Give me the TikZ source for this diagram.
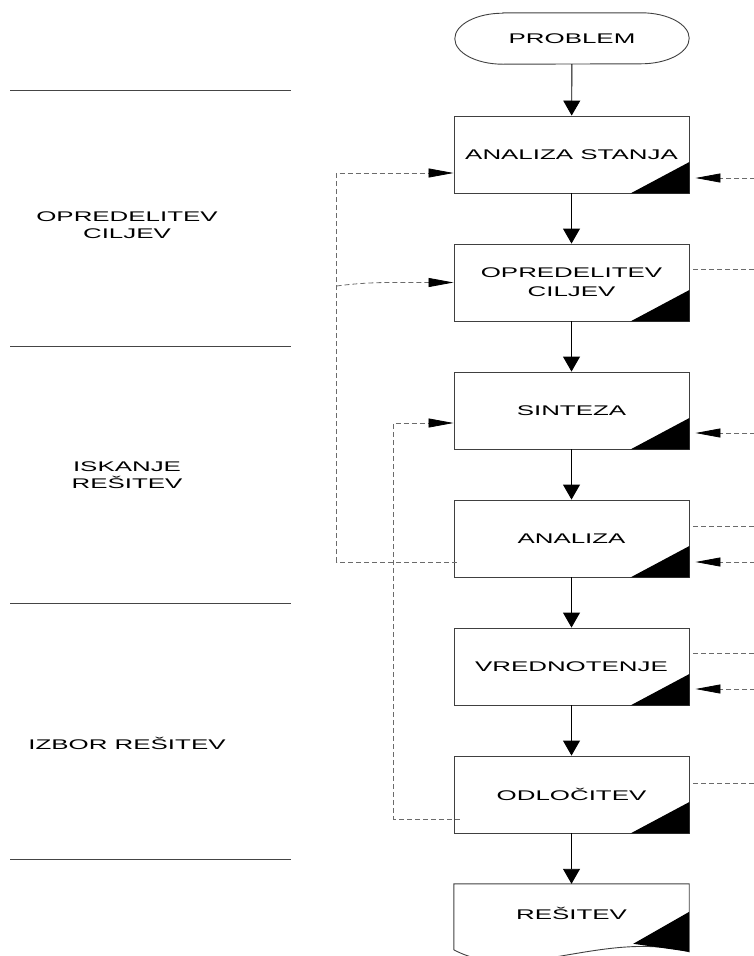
\documentclass[tikz,border=0pt]{standalone}
\usepackage{fontspec}
\setmainfont{Liberation Sans}[FakeStretch=1.85]
\usetikzlibrary{arrows.meta,calc}
\definecolor{framegray}{gray}{0.25}
\definecolor{dashgray}{gray}{0.42}
\definecolor{rulegray}{gray}{0.27}
\tikzset{
  boxfont/.style={font=\fontsize{14}{19}\selectfont},
  stepbox/.style={rectangle, draw=framegray, line width=0.9pt, minimum width=235pt,
    minimum height=77pt, inner sep=0pt, align=center, boxfont},
  plainbox/.style={rectangle, draw=none, inner sep=0pt, align=center, boxfont},
  outline/.style={draw=framegray, line width=0.9pt},
  flow/.style={draw=black, line width=0.9pt, -{Triangle[length=15pt,width=17pt]}},
  feedline/.style={draw=dashgray, line width=0.8pt, dash pattern=on 5pt off 3pt},
  feedarrow/.style={feedline, -{Triangle[length=25pt,width=9pt,color=black]}},
  corner/.style={fill=black},
  phase/.style={align=center, font=\fontsize{14}{17}\selectfont},
  rule/.style={draw=rulegray, line width=1pt}
}
\begin{document}
\begin{tikzpicture}[x=1pt,y=-1pt]
\useasboundingbox (0,0) rectangle (754,956);
\clip (0,0) rectangle (754,956);

% phase separators and phase names
\foreach \yy in {90,346,603,859} \draw[rule] (10,\yy) -- (291,\yy);
\node[phase] (ph1) at (127,225.5) {OPREDELITEV\\CILJEV};
\node[phase] (ph2) at (127,475.5) {ISKANJE\\REŠITEV};
\node[phase] (ph3) at (127,743) {IZBOR REŠITEV};

% start terminal
\node[plainbox, minimum width=234pt, minimum height=51pt] (p) at (572,38.5) {PROBLEM};
\draw[outline] ($(p.north west)+(48,0)$) -- ($(p.north east)+(-48,0)$)
  arc[start angle=-90,end angle=90,x radius=48,y radius=25.5]
  -- ($(p.south west)+(48,0)$)
  arc[start angle=90,end angle=270,x radius=48,y radius=25.5] -- cycle;

% process steps
\node[stepbox] (b1) at (571.5,154.5) {ANALIZA STANJA};
\node[stepbox] (b2) at (571.5,282.5) {OPREDELITEV\\CILJEV};
\node[stepbox] (b3) at (571.5,410.5) {SINTEZA};
\node[stepbox] (b4) at (571.5,538.5) {ANALIZA};
\node[stepbox] (b5) at (571.5,666.5) {VREDNOTENJE};
\node[stepbox] (b6) at (571.5,794.5) {ODLOČITEV};
\foreach \b in {b1,b2,b3,b4,b5,b6}
  \fill[corner] ($(\b.south east)+(-59,0)$) -- (\b.south east) -- ++(0,-31.5) -- cycle;

% result document
\node[plainbox, minimum width=235pt, minimum height=58pt] (b7) at (571.5,913) {REŠITEV};
\draw[outline] ($(b7.north west)+(0,66)$) -- (b7.north west) -- (b7.north east)
  -- ($(b7.north east)+(0,68)$)
  .. controls ($(b7.north east)+(-89,46)$) and ($(b7.north west)+(66,101)$) .. ($(b7.north west)+(0,66)$);
\fill[corner] ($(b7.north east)+(-56,60)$) -- ($(b7.north east)+(0,28)$) -- ($(b7.north east)+(0,68)$) -- cycle;

% main flow
\draw[flow] (p) -- (b1);
\draw[flow] (b1) -- (b2);
\draw[flow] (b2) -- (b3);
\draw[flow] (b3) -- (b4);
\draw[flow] (b4) -- (b5);
\draw[flow] (b5) -- (b6);
\draw[flow] (b6) -- (b7);

% feedback on the right edge
\foreach \b/\dy in {b1/23.5, b3/22.5, b4/23.5, b5/22.5}
  \draw[feedarrow] ($(\b.east)+(66,\dy)$) -- ($(\b.east)+(6,\dy)$);
\foreach \b/\dy in {b2/-13.5, b4/-12.5, b5/-13.5, b6/-11.5}
  \draw[feedline] ($(\b.east)+(4,\dy)$) -- ($(\b.east)+(66,\dy)$);

% feedback loops on the left
\draw[feedarrow] ($(b4.west)+(3,23.5)$) -- ++(-120,0) coordinate (la) |- ($(b1.west)+(0,18.5)$);
\coordinate (jA) at ($(la|-b2.west)+(0,3.5)$);
\draw[feedarrow] (jA) .. controls ($(jA)+(15,-2)$) and ($(jA)+(33,-3.5)$) .. ($(jA)+(53,-3.5)$) -- (b2.west);
\draw[feedarrow] ($(b6.west)+(6,24.5)$) -- ++(-66,0) |- ($(b3.west)+(0,12.5)$);
\end{tikzpicture}
\end{document}
